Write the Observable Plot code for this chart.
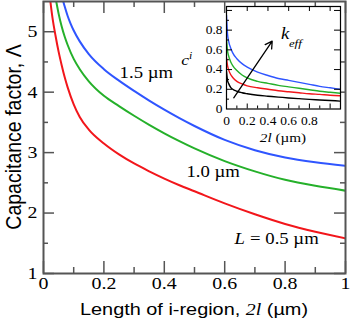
<!DOCTYPE html>
<html><head><meta charset="utf-8">
<script src="https://cdn.jsdelivr.net/npm/d3@7"></script>
<script src="https://cdn.jsdelivr.net/npm/@observablehq/plot@0.6"></script>
<style>
body{margin:0;background:#fff;}
#wrap{position:relative;width:354px;height:321px;overflow:hidden;background:#fff;}
</style></head><body><div id="wrap"></div>
<script>
// ---------- main chart data ----------
const redX   = [0.02,0.03,0.04,0.05,0.06,0.07,0.08,0.1,0.12,0.15,0.2,0.25,0.3,0.35,0.4,0.45,0.5,0.6,0.7,0.8,0.9,1.0];
const redY   = [5.62,5.22,4.93,4.67,4.45,4.25,4.08,3.80,3.59,3.38,3.15,2.97,2.82,2.69,2.57,2.46,2.36,2.16,1.98,1.82,1.69,1.58];
const greenX = [0.04,0.05,0.06,0.07,0.08,0.1,0.12,0.15,0.2,0.25,0.3,0.35,0.4,0.45,0.5,0.6,0.7,0.8,0.9,1.0];
const greenY = [5.56,5.30,5.09,4.92,4.78,4.55,4.38,4.18,3.94,3.77,3.61,3.46,3.32,3.19,3.07,2.86,2.69,2.55,2.45,2.37];
const blueX  = [0.06,0.07,0.08,0.09,0.1,0.12,0.15,0.2,0.25,0.3,0.35,0.4,0.45,0.5,0.6,0.7,0.8,0.9,1.0];
const blueY  = [5.60,5.42,5.26,5.13,5.02,4.84,4.63,4.38,4.19,4.02,3.86,3.71,3.57,3.44,3.21,3.04,2.92,2.84,2.78];

const mainXTicks = [0,0.2,0.4,0.6,0.8,1];
const mainXMinor = [0.1,0.3,0.5,0.7,0.9];
const mainYTicks = [1,2,3,4,5];
const mainYMinor = [1.5,2.5,3.5,4.5];

const curveLabels  = ["1.5 µm","1.0 µm","= 0.5 µm"];
const curveLabelX  = [0.252,0.4735,0.684];
const curveLabelY  = [4.32,2.687,1.57];
const italicLabel  = ["L"];
const italicLabelX = [0.6325];
const italicLabelY = [1.57];

// ---------- inset data ----------
const insetX     = [0,0.01,0.02,0.04,0.06,0.1,0.15,0.2,0.3,0.4,0.5,0.6,0.7,0.8,0.9,1.0,1.1];
const insetBlue  = [0.95,0.76,0.69,0.62,0.57,0.51,0.46,0.425,0.375,0.34,0.31,0.29,0.27,0.25,0.23,0.215,0.20];
const insetGreen = [0.71,0.59,0.54,0.48,0.44,0.39,0.345,0.315,0.28,0.26,0.24,0.225,0.21,0.195,0.18,0.17,0.16];
const insetRed   = [0.52,0.44,0.40,0.35,0.32,0.28,0.255,0.235,0.215,0.20,0.185,0.175,0.165,0.155,0.148,0.14,0.134];
const insetBlack = [0.38,0.29,0.26,0.22,0.20,0.18,0.165,0.155,0.14,0.13,0.12,0.112,0.105,0.098,0.092,0.086,0.08];

const insetXTicks = [0,0.2,0.4,0.6,0.8];
const insetXMajor = [0.2,0.4,0.6,0.8,1.0];
const insetXMinor = [0.1,0.3,0.5,0.7,0.9];
const insetYTicks = [0,0.2,0.4,0.6,0.8];
const insetYMajor = [0.2,0.4,0.6,0.8,1.0];
const insetYMinor = [0.1,0.3,0.5,0.7,0.9];

const arrowData = [{x1:0.07,y1:0.114,x2:0.441,y2:0.688}];
const kLabel = [{t:"k",x:0.525,y:0.715}];
const kSub   = [{t:"eff",x:0.525,y:0.715}];
const cLabelPos = [-0.379,0.441];

// ---------- styling ----------
const RED="#f2161b", GREEN="#25b02a", BLUE="#2f55ff", AXIS="#555";
const serif="'Liberation Serif','Times New Roman',serif";
const sans="'Liberation Sans',Arial,Helvetica,sans-serif";
const SX=1.17;
const W=354,H=321,mL=43,mR=9,mT=1,mB=48;
const fw=W-mL-mR, fh=H-mT-mB;
const pts=(xs,ys)=>xs.map((x,i)=>({x,y:ys[i]}));
const lab=(ts,xs,ys)=>ts.map((t,i)=>({t,x:xs[i],y:ys[i]}));

const main = Plot.plot({
  width:W,height:H,marginLeft:mL,marginRight:mR,marginTop:mT,marginBottom:mB,
  x:{domain:[0,1]}, y:{domain:[1,5.5]},
  style:{fontFamily:serif,fontSize:"17px",color:"#000",background:"transparent"},
  marks:[
    Plot.axisX(mainXTicks,{tickSize:0,tickPadding:3,tickFormat:d=>String(d),label:null,fontSize:17}),
    Plot.axisY(mainYTicks,{tickSize:0,tickPadding:6,tickFormat:d=>String(d),label:null,fontSize:17}),
    Plot.line(pts(redX,redY),{x:"x",y:"y",stroke:RED,strokeWidth:2,curve:"monotone-x",clip:true}),
    Plot.line(pts(greenX,greenY),{x:"x",y:"y",stroke:GREEN,strokeWidth:2,curve:"monotone-x",clip:true}),
    Plot.line(pts(blueX,blueY),{x:"x",y:"y",stroke:BLUE,strokeWidth:2,curve:"monotone-x",clip:true}),
    Plot.tickX(mainXTicks,{x:d=>d,insetTop:fh-12,stroke:AXIS,strokeWidth:1.5}),
    Plot.tickX(mainXTicks,{x:d=>d,insetBottom:fh-12,stroke:AXIS,strokeWidth:1.5}),
    Plot.tickX(mainXMinor,{x:d=>d,insetTop:fh-6,stroke:AXIS,strokeWidth:1.5}),
    Plot.tickX(mainXMinor,{x:d=>d,insetBottom:fh-6,stroke:AXIS,strokeWidth:1.5}),
    Plot.tickY(mainYTicks,{y:d=>d,insetRight:fw-11,stroke:AXIS,strokeWidth:1.5}),
    Plot.tickY(mainYTicks,{y:d=>d,insetLeft:fw-11,stroke:AXIS,strokeWidth:1.5}),
    Plot.tickY(mainYMinor,{y:d=>d,insetRight:fw-5,stroke:AXIS,strokeWidth:1.5}),
    Plot.tickY(mainYMinor,{y:d=>d,insetLeft:fw-5,stroke:AXIS,strokeWidth:1.5}),
    Plot.frame({stroke:AXIS,strokeWidth:2}),
    Plot.text(lab(curveLabels,curveLabelX,curveLabelY),{x:"x",y:"y",text:"t",textAnchor:"start",fontSize:16,fontFamily:serif}),
    Plot.text(lab(italicLabel,italicLabelX,italicLabelY),{x:"x",y:"y",text:"t",textAnchor:"start",fontSize:16,fontFamily:serif,fontStyle:"italic"})
  ]
});

const iw=174, ih=150, iL=180;
const inset = Plot.plot({
  width:iw,height:ih,marginLeft:46,marginRight:14,marginTop:6,marginBottom:41.5,
  x:{domain:[0,1.1]}, y:{domain:[0,1.04]},
  style:{fontFamily:serif,fontSize:"11.5px",color:"#000",background:"transparent"},
  marks:[
    Plot.frame({fill:"white",stroke:null}),
    Plot.axisX(insetXTicks,{tickSize:0,tickPadding:8,tickFormat:d=>String(d),label:null,fontSize:11.5}),
    Plot.axisY(insetYTicks,{tickSize:0,tickPadding:4,tickFormat:d=>String(d),label:null,fontSize:11.5}),
    Plot.line(pts(insetX,insetBlack),{x:"x",y:"y",stroke:"#000",strokeWidth:1.4,curve:"monotone-x",clip:true}),
    Plot.line(pts(insetX,insetRed),{x:"x",y:"y",stroke:RED,strokeWidth:1.4,curve:"monotone-x",clip:true}),
    Plot.line(pts(insetX,insetGreen),{x:"x",y:"y",stroke:GREEN,strokeWidth:1.4,curve:"monotone-x",clip:true}),
    Plot.line(pts(insetX,insetBlue),{x:"x",y:"y",stroke:BLUE,strokeWidth:1.4,curve:"monotone-x",clip:true}),
    Plot.arrow(arrowData,{x1:"x1",y1:"y1",x2:"x2",y2:"y2",stroke:"#000",strokeWidth:1.3,headLength:9}),
    Plot.text(kLabel,{x:"x",y:"y",text:"t",textAnchor:"start",lineAnchor:"bottom",fontSize:16,fontStyle:"italic",fontFamily:serif}),
    Plot.text(kSub,{x:"x",y:"y",text:"t",textAnchor:"start",lineAnchor:"bottom",dx:8,dy:8,fontSize:11,fontStyle:"italic",fontFamily:serif}),
    Plot.tickX(insetXMajor,{x:d=>d,insetTop:102.5-5,stroke:"#000"}),
    Plot.tickX(insetXMajor,{x:d=>d,insetBottom:102.5-5,stroke:"#000"}),
    Plot.tickX(insetXMinor,{x:d=>d,insetTop:102.5-3,stroke:"#000"}),
    Plot.tickY(insetYMajor,{y:d=>d,insetRight:114-6,stroke:"#000"}),
    Plot.tickY(insetYMajor,{y:d=>d,insetLeft:114-6,stroke:"#000"}),
    Plot.tickY(insetYMinor,{y:d=>d,insetRight:114-3,stroke:"#000"}),
    Plot.frame({stroke:"#000",strokeWidth:1.2})
  ]
});

// stretch all text horizontally (the reference figure is widened)
function stretch(svg){
  svg.querySelectorAll("text").forEach(t=>{
    if(t.dataset.s) return;
    const tr=t.getAttribute("transform");
    if(tr){ t.setAttribute("transform",tr+` scale(${SX},1)`); }
    else{
      const x=+t.getAttribute("x")||0, y=+t.getAttribute("y")||0;
      t.setAttribute("x",0); t.setAttribute("y",0);
      t.setAttribute("transform",`translate(${x},${y}) scale(${SX},1)`);
    }
  });
}
stretch(main); stretch(inset);

// axis titles with mixed styles
const ms=d3.select(main);
const xs=main.scale("x"), ys=main.scale("y");
const xMid=(xs.apply(0)+xs.apply(1))/2, yMid=(ys.apply(1)+ys.apply(5.5))/2;
const xt=ms.append("text").attr("data-s",1)
  .attr("transform",`translate(${xMid},${H-6}) scale(${SX},1)`)
  .attr("text-anchor","middle").attr("font-family",sans).attr("font-size",17).attr("fill","#000");
xt.append("tspan").text("Length of i-region, ");
xt.append("tspan").attr("font-family",serif).attr("font-style","italic").text("2l");
xt.append("tspan").text(" (µm)");
ms.append("text").attr("data-s",1)
  .attr("transform",`translate(${mL-22},${yMid}) scale(${SX},1) rotate(-90)`)
  .attr("text-anchor","middle").attr("font-family",sans).attr("font-size",19.5).attr("fill","#000")
  .text("Capacitance factor, Λ");

const is=d3.select(inset);
const ixs=inset.scale("x"), iys=inset.scale("y");
const ixMid=(ixs.apply(0)+ixs.apply(1.1))/2;
const it=is.append("text").attr("data-s",1)
  .attr("transform",`translate(${ixMid},${ih-8}) scale(${SX},1)`)
  .attr("text-anchor","middle").attr("font-family",serif).attr("font-size",13).attr("fill","#000");
it.append("tspan").attr("font-style","italic").text("2l");
it.append("tspan").text(" (µm)");
const ct=is.append("text").attr("data-s",1)
  .attr("transform",`translate(${ixs.apply(cLabelPos[0])},${iys.apply(cLabelPos[1])}) scale(${SX},1)`)
  .attr("font-family",serif).attr("font-size",15).attr("font-style","italic").attr("fill","#000");
ct.append("tspan").text("c");
ct.append("tspan").attr("font-size",10).attr("dy",-6).text("i");

const wrap=document.getElementById("wrap");
main.style.position="absolute"; main.style.left="0px"; main.style.top="0px";
inset.style.position="absolute"; inset.style.left=iL+"px"; inset.style.top="0px";
wrap.appendChild(main); wrap.appendChild(inset);
</script></body></html>
